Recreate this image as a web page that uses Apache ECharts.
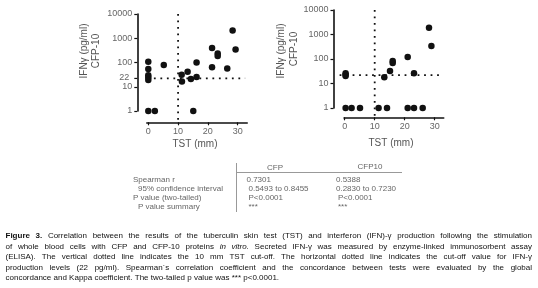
<!DOCTYPE html>
<html>
<head>
<meta charset="utf-8">
<script src="https://cdn.jsdelivr.net/npm/echarts@6/dist/echarts.min.js"></script>
<style>
  html, body { margin: 0; padding: 0; background: #fff; }
  #chart { width: 538px; height: 288px; }
</style>
</head>
<body>
<div id="chart"></div>
<script>
// left panel
const cfpTst = [0, 0, 0, 0, 0, 0, 2.2, 5.2, 11.2, 11.3, 13.2, 14.3, 15.1, 16.2, 16.2, 21.4, 21.4, 23.3, 23.3, 26.5, 28.3, 29.3];
const cfpIfn = [108, 54, 30, 24, 19, 1, 1, 78, 31, 16.5, 42, 21, 1, 25, 100, 400, 63, 235, 185, 57, 2100, 345];
// right panel
const cfp10Tst = [0.3, 0.3, 0.3, 0.3, 2.3, 5.1, 11.3, 14.1, 13.2, 15.1, 16, 16, 21, 21, 23.1, 23.1, 26, 28.1, 28.9];
const cfp10Ifn = [26, 23, 20, 1, 1, 1, 1, 1, 18, 32, 68, 82, 122, 1, 26, 1, 1, 1900, 340];

const xTicks = [0, 10, 20, 30];
const tstCutoff = 10;
const ifnCutoff = 22;

const tableHead = ['CFP', 'CFP10'];
const tableRows = ['Spearman r', '95% confidence interval', 'P value (two-tailed)', 'P value summary'];
const cfpStats = ['0.7301', '0.5493 to 0.8455', 'P<0.0001', '***'];
const cfp10Stats = ['0.5388', '0.2830 to 0.7230', 'P<0.0001', '***'];

// ^ = bold word, ~ = italic word
const captionLines = [
  '^Figure ^3. Correlation between the results of the tuberculin skin test (TST) and interferon (IFN)-γ production following the stimulation',
  'of whole blood cells with CFP and CFP-10 proteins ~in ~vitro. Secreted IFN-γ was measured by enzyme-linked immunosorbent assay',
  '(ELISA). The vertical dotted line indicates the 10 mm TST cut-off. The horizontal dotted line indicates the cut-off value for IFN-γ',
  'production levels (22 pg/ml). Spearman`s correlation coefficient and the concordance between tests were evaluated by the global',
  'concordance and Kappa coefficient. The two-tailed p value was *** p<0.0001.'
];

const FONT = '"Liberation Sans", Arial, Helvetica, sans-serif';
const INK = '#111';
const GREY = '#666';

const chart = echarts.init(document.getElementById('chart'), null, { renderer: 'canvas' });

function xAxisOf(gridIndex, min, max, offset) {
  return {
    gridIndex, type: 'value', min, max, offset,
    splitLine: { show: false },
    axisLine: { show: true, onZero: false, lineStyle: { color: INK, width: 1.6 } },
    axisTick: { show: true, length: 3, customValues: xTicks, lineStyle: { color: INK, width: 1.2 } },
    axisLabel: { customValues: xTicks, color: GREY, fontSize: 9, margin: 5, fontFamily: FONT }
  };
}
function yAxisOf(gridIndex, offset) {
  return {
    gridIndex, type: 'log', logBase: 10, min: 1, max: 10000, offset,
    splitLine: { show: false },
    axisLine: { show: true, onZero: false, lineStyle: { color: INK, width: 1.6 } },
    axisTick: { show: true, length: 3, lineStyle: { color: INK, width: 1.2 } },
    axisLabel: { color: GREY, fontSize: 9, margin: 5, fontFamily: FONT, formatter: v => String(Math.round(v)) }
  };
}

chart.setOption({
  animation: false,
  grid: [
    { left: 146.8, top: 14, width: 100.4, height: 97 },
    { left: 344.1, top: 10, width: 99.6, height: 98 }
  ],
  xAxis: [xAxisOf(0, -0.5, 33.2, 11.3), xAxisOf(1, -0.2, 33, 9.3)],
  yAxis: [yAxisOf(0, 9.5), yAxisOf(1, 10.6)],
  series: [
    {
      type: 'scatter', xAxisIndex: 0, yAxisIndex: 0, clip: false,
      data: cfpTst.map((t, i) => [t, cfpIfn[i]]),
      symbolSize: 6.5, itemStyle: { color: INK, opacity: 1 }
    },
    {
      type: 'scatter', xAxisIndex: 1, yAxisIndex: 1, clip: false,
      data: cfp10Tst.map((t, i) => [t, cfp10Ifn[i]]),
      symbolSize: 6.5, itemStyle: { color: INK, opacity: 1 }
    }
  ]
});

const g = [];
function txt(x, y, text, opts) {
  g.push(Object.assign({ type: 'text', x, y, silent: true,
    style: Object.assign({ text, fill: GREY, fontSize: 8, fontFamily: FONT, verticalAlign: 'middle' }, opts && opts.style) },
    opts && opts.el));
}
function line(x1, y1, x2, y2, color, w, dash) {
  g.push({ type: 'line', silent: true, z: 5, shape: { x1, y1, x2, y2 },
    style: { stroke: color, lineWidth: w, lineDash: dash || null, lineCap: 'butt' } });
}

// dotted cut-off lines, placed through each grid's scales
function cutoffs(gridIndex, x0, x1, yLow) {
  const a = chart.convertToPixel({ gridIndex }, [tstCutoff, 10000]);
  const b = chart.convertToPixel({ gridIndex }, [tstCutoff, yLow]);
  line(a[0], a[1], b[0], b[1], INK, 1.8, [1.8, 4.7]);
  const c = chart.convertToPixel({ gridIndex }, [x0, ifnCutoff]);
  const d = chart.convertToPixel({ gridIndex }, [x1, ifnCutoff]);
  line(c[0], c[1], d[0], d[1], INK, 1.8, [1.8, 4.7]);
}
cutoffs(0, -0.3, 32.5, 0.42);
cutoffs(1, -1.7, 31.7, 0.42);

// extra "22" tick on the left y axis
const y22 = chart.convertToPixel({ yAxisIndex: 0 }, ifnCutoff);
const yAxisX = 146.8 - 9.5;
line(yAxisX - 3, y22, yAxisX, y22, INK, 1.2);
txt(yAxisX - 8, y22 - 1, '22', { style: { fontSize: 9, align: 'right' } });

// axis titles
[[84, 51, 'IFNγ (pg/ml)'], [96.5, 51, 'CFP-10'], [281.5, 51, 'IFNγ (pg/ml)'], [294, 49, 'CFP-10']].forEach(([x, y, t]) => {
  txt(x, y, t, { style: { fontSize: 10, fill: '#555', align: 'center' }, el: { rotation: Math.PI / 2 } });
});
txt(195, 144, 'TST (mm)', { style: { fontSize: 10, fill: '#555', align: 'center' } });
txt(391, 143, 'TST (mm)', { style: { fontSize: 10, fill: '#555', align: 'center' } });

// stats table
line(236.5, 163, 236.5, 212, '#999', 1);
line(237, 172.5, 402, 172.5, '#999', 1);
txt(275, 167.5, tableHead[0], { style: { align: 'center' } });
txt(370, 166.5, tableHead[1], { style: { align: 'center' } });
const rowY = [179.5, 188.5, 197.5, 206.5];
tableRows.forEach((r, i) => {
  txt(i % 2 ? 138 : 133, rowY[i], r);
  txt(i === 0 ? 246.5 : 248.5, rowY[i], cfpStats[i]);
  txt(i < 2 ? 336 : 338, rowY[i], cfp10Stats[i]);
});

// caption, justified word by word
const ctx = document.createElement('canvas').getContext('2d');
const capSize = 8, capLeft = 5.5, capRight = 532;
const capY = [236, 246.5, 257, 267.5, 278];
captionLines.forEach((ln, li) => {
  const words = ln.split(' ').map(w => {
    let weight = 'normal', style = 'normal', text = w;
    if (w[0] === '^') { weight = 'bold'; text = w.slice(1); }
    else if (w[0] === '~') { style = 'italic'; text = w.slice(1); }
    ctx.font = style + ' ' + weight + ' ' + capSize + 'px ' + FONT;
    return { text, weight, style, width: ctx.measureText(text).width };
  });
  ctx.font = capSize + 'px ' + FONT;
  const space = ctx.measureText(' ').width;
  const total = words.reduce((s, w) => s + w.width, 0);
  const gap = li < captionLines.length - 1 ? (capRight - capLeft - total) / (words.length - 1) : space;
  let x = capLeft;
  words.forEach(w => {
    txt(x, capY[li], w.text, { style: { fill: INK, fontSize: capSize, fontWeight: w.weight, fontStyle: w.style } });
    x += w.width + gap;
  });
});

chart.setOption({ graphic: { elements: g } });
</script>
</body>
</html>
